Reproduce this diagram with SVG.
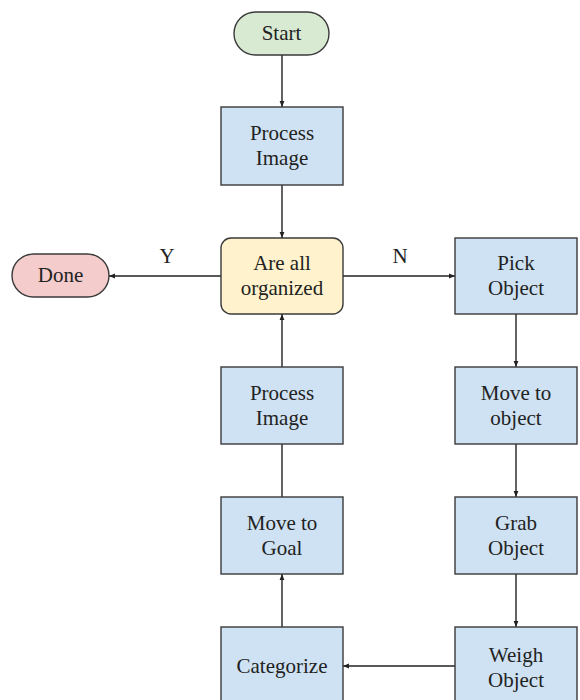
<svg xmlns="http://www.w3.org/2000/svg" width="580" height="700" viewBox="0 0 580 700">
<defs>
<style>
.box{fill:#cfe2f3;stroke:#3a3a3a;stroke-width:1.4}
.c{fill:none;stroke:#222;stroke-width:1.4}
</style>
<marker id="ah" viewBox="0 0 10 10" refX="10" refY="5" markerWidth="6" markerHeight="6" markerUnits="userSpaceOnUse" orient="auto">
<path d="M0,1 L10,5 L0,9 z" fill="#222"/>
</marker>
</defs>
<rect width="580" height="700" fill="#fff"/>
<g font-family="'Liberation Serif', 'Times New Roman', 'DejaVu Serif', serif" font-size="21" fill="#222" text-anchor="middle">
<g id="connectors">
<line class="c" x1="282" y1="55" x2="282" y2="107" marker-end="url(#ah)"/>
<line class="c" x1="282" y1="185" x2="282" y2="238" marker-end="url(#ah)"/>
<line class="c" x1="221" y1="276" x2="109" y2="276" marker-end="url(#ah)"/>
<line class="c" x1="343" y1="276" x2="455" y2="276" marker-end="url(#ah)"/>
<line class="c" x1="516" y1="314" x2="516" y2="367" marker-end="url(#ah)"/>
<line class="c" x1="516" y1="444" x2="516" y2="497" marker-end="url(#ah)"/>
<line class="c" x1="516" y1="574" x2="516" y2="627" marker-end="url(#ah)"/>
<line class="c" x1="455" y1="666" x2="343" y2="666" marker-end="url(#ah)"/>
<line class="c" x1="282" y1="627" x2="282" y2="574" marker-end="url(#ah)"/>
<line class="c" x1="282" y1="497" x2="282" y2="444"/>
<line class="c" x1="282" y1="367" x2="282" y2="314" marker-end="url(#ah)"/>
<text x="167" y="263">Y</text>
<text x="400" y="263">N</text>
</g>
<g id="start">
<rect x="234" y="12" width="95" height="43" rx="21.5" fill="#d9ead3" stroke="#3a3a3a" stroke-width="1.4"/>
<text x="281.5" y="40">Start</text>
</g>
<g id="process1">
<rect class="box" x="221" y="107" width="122" height="78"/>
<text x="282" y="140">Process</text>
<text x="282" y="165">Image</text>
</g>
<g id="decision">
<rect x="221" y="238" width="122" height="76" rx="10" fill="#fff2cc" stroke="#3a3a3a" stroke-width="1.4"/>
<text x="282" y="270">Are all</text>
<text x="282" y="295">organized</text>
</g>
<g id="done">
<rect x="12" y="254" width="97" height="43" rx="21.5" fill="#f4cccc" stroke="#3a3a3a" stroke-width="1.4"/>
<text x="60.5" y="282">Done</text>
</g>
<g id="pick">
<rect class="box" x="455" y="238" width="122" height="76"/>
<text x="516" y="270">Pick</text>
<text x="516" y="295">Object</text>
</g>
<g id="moveobj">
<rect class="box" x="455" y="367" width="122" height="77"/>
<text x="516" y="400">Move to</text>
<text x="516" y="425">object</text>
</g>
<g id="grab">
<rect class="box" x="455" y="497" width="122" height="77"/>
<text x="516" y="530">Grab</text>
<text x="516" y="555">Object</text>
</g>
<g id="weigh">
<rect class="box" x="455" y="627" width="122" height="78"/>
<text x="516" y="662">Weigh</text>
<text x="516" y="687">Object</text>
</g>
<g id="categorize">
<rect class="box" x="221" y="627" width="122" height="78"/>
<text x="282" y="673">Categorize</text>
</g>
<g id="movegoal">
<rect class="box" x="221" y="497" width="122" height="77"/>
<text x="282" y="530">Move to</text>
<text x="282" y="555">Goal</text>
</g>
<g id="process2">
<rect class="box" x="221" y="367" width="122" height="77"/>
<text x="282" y="400">Process</text>
<text x="282" y="425">Image</text>
</g>
</g>
</svg>
